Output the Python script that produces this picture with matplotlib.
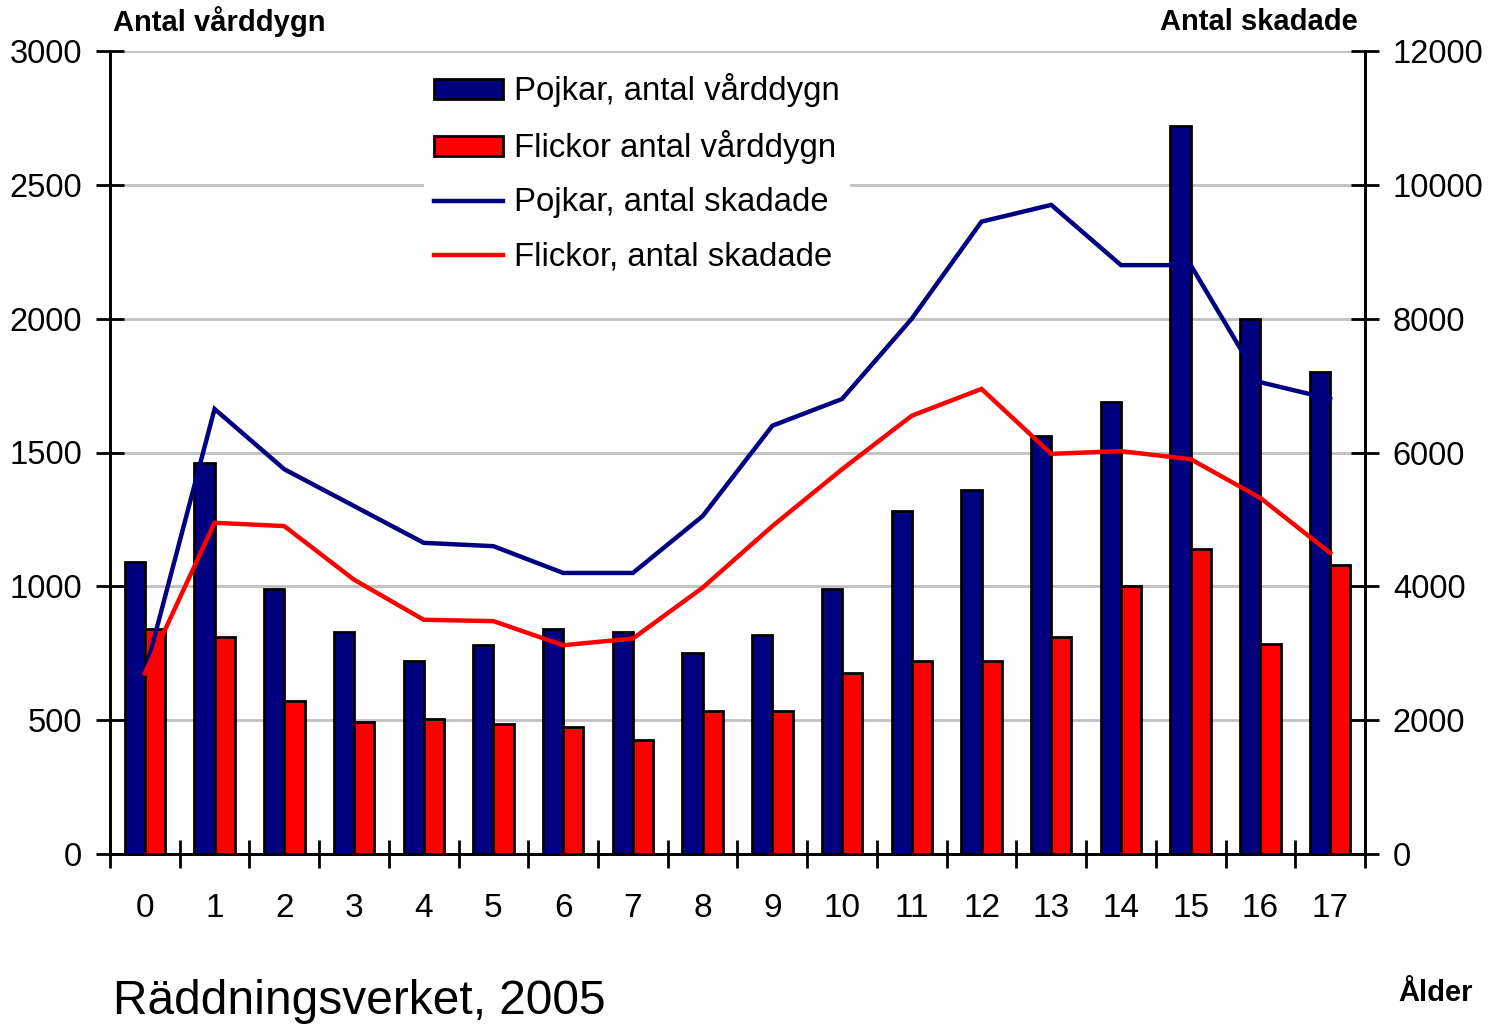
import matplotlib
matplotlib.use("Agg")
import matplotlib.pyplot as plt
import numpy as np
from matplotlib.patches import Patch
from matplotlib.lines import Line2D

plt.rcParams['font.family'] = ['Liberation Sans', 'DejaVu Sans']

ages = [str(i) for i in range(18)]
boys_days = [1090, 1460, 990, 830, 720, 780, 840, 830, 750, 820, 990, 1280, 1360, 1560, 1690, 2720, 2000, 1800]
girls_days = [840, 810, 570, 495, 505, 485, 475, 425, 535, 535, 675, 720, 720, 810, 1000, 1140, 785, 1080]
boys_injured = [2700, 6650, 5750, 5200, 4650, 4600, 4200, 4200, 5050, 6400, 6800, 8000, 9450, 9700, 8800, 8800, 7050, 6800]
girls_injured = [2700, 4950, 4900, 4100, 3500, 3480, 3120, 3220, 3980, 4900, 5750, 6550, 6950, 5980, 6020, 5900, 5320, 4500]

navy = '#000080'
red = '#FF0000'

fig = plt.figure(figsize=(14.93, 10.29), dpi=100)
ax = fig.add_axes([110/1493, 1-854/1029, (1365-110)/1493, (854-51)/1029])
ax2 = ax.twinx()

x = np.arange(len(ages))
w = 0.29
ax.bar(x - w/2, boys_days, width=w, color=navy, edgecolor='black', linewidth=2, zorder=3)
ax.bar(x + w/2, girls_days, width=w, color=red, edgecolor='black', linewidth=2, zorder=3)

ax2.plot(x, boys_injured, color=navy, lw=3.2, solid_joinstyle='miter')
ax2.plot(x, girls_injured, color=red, lw=3.2, solid_joinstyle='miter')

ax.set_xlim(-0.5, len(ages) - 0.5)
ax.set_ylim(0, 3000)
ax2.set_ylim(0, 12000)
ax.set_yticks(np.arange(0, 3001, 500))
ax2.set_yticks(np.arange(0, 12001, 2000))

ax.yaxis.grid(True, color='#c0c0c0', lw=2, zorder=0)
ax.set_axisbelow(True)

for a in (ax, ax2):
    a.spines['top'].set_visible(False)
    for s in a.spines.values():
        s.set_linewidth(2)

ax.set_xticks(np.arange(-0.5, len(ages), 1.0))
ax.set_xticklabels([])
ax.set_xticks(x, minor=True)
ax.set_xticklabels(ages, minor=True)
ax.tick_params(axis='x', which='major', direction='inout', length=20, width=2)
ax.tick_params(axis='x', which='minor', length=0, pad=28, labelsize=24)
ax.tick_params(axis='y', direction='inout', length=20, width=2, pad=10, labelsize=23.5)
ax2.tick_params(axis='y', direction='inout', length=20, width=2, pad=10, labelsize=23.5)

fig.text(113/1493, 1-22/1029, 'Antal vårddygn', fontsize=21, fontweight='bold', ha='left', va='center')
fig.text(1358/1493, 1-22/1029, 'Antal skadade', fontsize=21, fontweight='bold', ha='right', va='center')
fig.text(113/1493, 1-1002/1029, 'Räddningsverket, 2005', fontsize=34.5, ha='left', va='center')
fig.text(1473/1493, 1-993/1029, 'Ålder', fontsize=21, fontweight='bold', ha='right', va='center')

handles = [
    Patch(facecolor=navy, edgecolor='black', linewidth=2),
    Patch(facecolor=red, edgecolor='black', linewidth=2),
    Line2D([], [], color=navy, lw=3.2),
    Line2D([], [], color=red, lw=3.2),
]
labels = ['Pojkar, antal vårddygn', 'Flickor antal vårddygn', 'Pojkar, antal skadade', 'Flickor, antal skadade']
leg = ax2.legend(handles, labels, loc='upper left', bbox_to_anchor=(408/1493, 1-47/1029),
                 bbox_transform=fig.transFigure, fontsize=23.7, frameon=True, fancybox=False,
                 edgecolor='none', facecolor='white', framealpha=1, handlelength=2.1,
                 handleheight=0.55, handletextpad=0.33, labelspacing=0.7, borderpad=0.3)
leg.set_zorder(10)

fig.savefig('out.png', dpi=100)
